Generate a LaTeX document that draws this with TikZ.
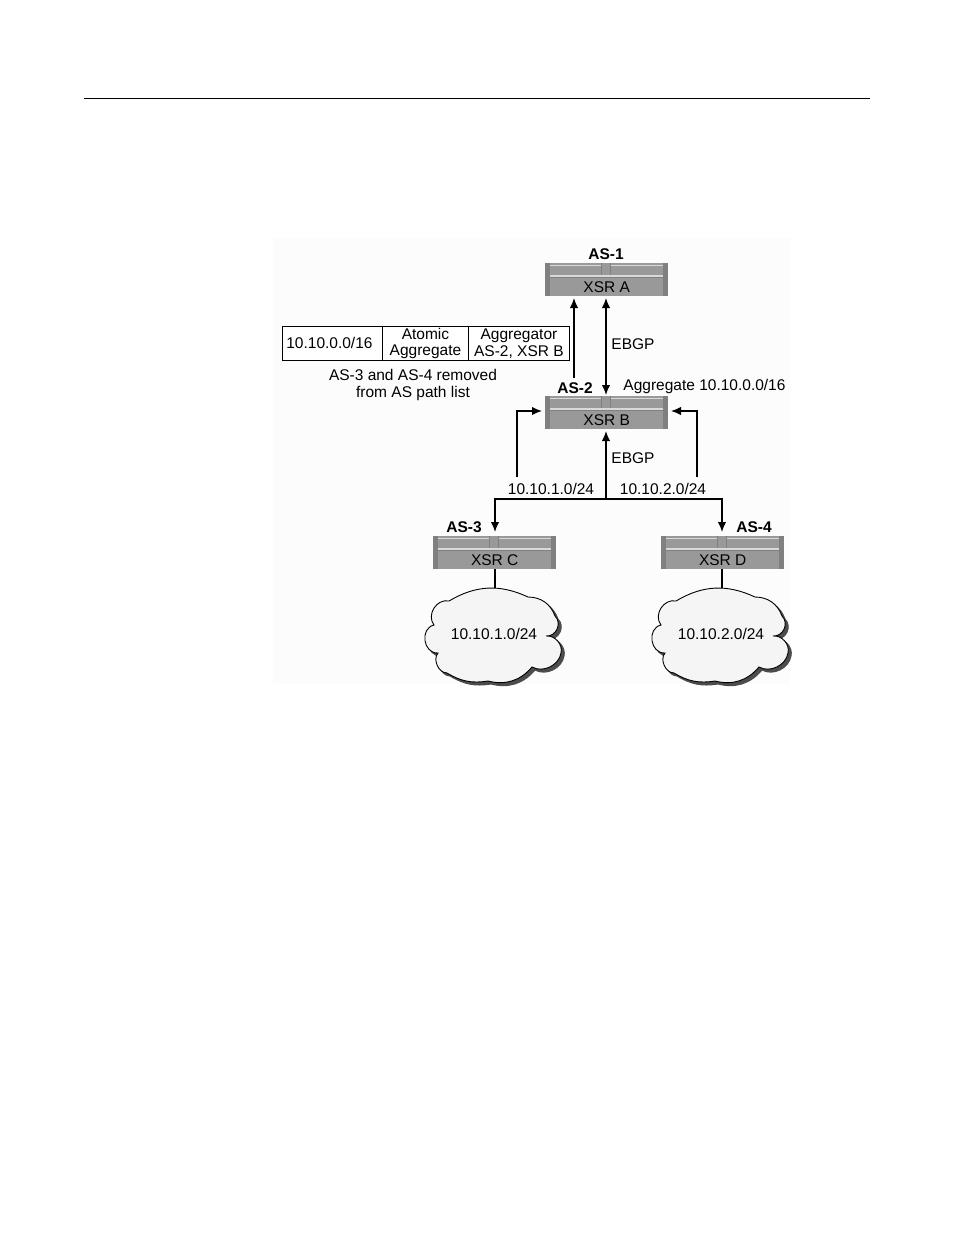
\documentclass[tikz,border=0pt]{standalone}
\usepackage{fontspec}
\setmainfont{Liberation Sans}
\usetikzlibrary{arrows.meta}
\definecolor{routerbody}{gray}{0.60}
\definecolor{routerdark}{gray}{0.50}
\definecolor{routerlight}{gray}{0.85}
\definecolor{cloudfill}{gray}{0.96}
\definecolor{cloudshadow}{gray}{0.30}
\definecolor{panel}{gray}{0.988}
\tikzset{
  x=1pt,y=-1pt,
  txt/.style={font=\fontsize{15.5}{17}\selectfont,inner sep=0pt,align=center},
  astxt/.style={font=\fontsize{15.5}{17}\selectfont\bfseries,inner sep=0pt},
  conn/.style={line width=1.5pt,-{Latex[length=10pt,width=8.5pt]}},
  connboth/.style={line width=1.5pt,{Latex[length=10pt,width=8.5pt]}-{Latex[length=10pt,width=8.5pt]}},
  plainconn/.style={line width=1.5pt},
  cell/.style={draw=black,line width=0.9pt,fill=white,minimum height=34pt,inner sep=0pt,align=center,font=\fontsize{15.5}{16.5}\selectfont,anchor=north west},
  router/.style={
    rectangle,fill=routerbody,minimum width=123pt,minimum height=33pt,inner sep=0pt,anchor=north west,
    font=\fontsize{15.5}{17}\selectfont,
    path picture={
      \coordinate (nw) at (path picture bounding box.north west);
      \fill[routerdark] ([xshift=0pt]nw) rectangle ++(4.5,33);
      \fill[routerdark] ([xshift=117.5pt]nw) rectangle ++(5.5,33);
      \fill[routerlight] ([xshift=4.5pt,yshift=-1.5pt]nw) rectangle ++(113,1.2);
      \fill[routerlight] ([xshift=4.5pt,yshift=-12.2pt]nw) rectangle ++(113,2);
      \fill[routerbody] ([xshift=56.5pt]nw) rectangle ++(9,12.2);
      \draw[routerdark,line width=0.8pt] ([xshift=56.5pt]nw) -- ++(0,12.2) ([xshift=65.5pt]nw) -- ++(0,12.2);
      \draw[routerdark,line width=0.6pt] ([xshift=4.5pt,yshift=-14.5pt]nw) -- ++(113,0);
    }
  },
  cloudbody/.style={line width=0.9pt,draw=black,fill=cloudfill},
  cloudback/.style={line width=1pt,draw=cloudshadow,fill=cloudshadow},
}
\newcommand{\cloudpath}[2]{%
  (#1-46,#2+12) to[bend left=28] (#1+33,#2+8) to[bend left=35] (#1+60,#2+27)
  to[bend left=70,looseness=1.2] (#1+51,#2+47) to[bend left=55] (#1+66,#2+64)
  to[bend left=55] (#1+37,#2+78) to[bend left=32] (#1-7,#2+92)
  to[bend left=20] (#1-48,#2+84) to[bend left=65] (#1-57,#2+64)
  to[bend left=85,looseness=1.35] (#1-61,#2+36) to[bend left=70,looseness=1.15] cycle}
\begin{document}
\begin{tikzpicture}
\useasboundingbox (0,0) rectangle (954,1235);
\fill[white] (0,0) rectangle (954,1235);
\fill[panel] (273,238) rectangle (790,684);
\coordinate (ruleL) at (84,98);
\coordinate (ruleR) at (870,98);
\draw[line width=1pt] (ruleL) -- (ruleR);

% routers
\node[router] (A) at (545,263) {\raisebox{-13pt}[0pt][0pt]{XSR A}};
\node[router] (B) at (545,396) {\raisebox{-13pt}[0pt][0pt]{XSR B}};
\node[router] (C) at (433,536) {\raisebox{-13pt}[0pt][0pt]{XSR C}};
\node[router] (D) at (661,536) {\raisebox{-13pt}[0pt][0pt]{XSR D}};

% AS labels
\node[astxt] (as1) at (606,254) {AS-1};
\node[astxt] (as2) at (575,388) {AS-2};
\node[astxt] (as3) at (464,527) {AS-3};
\node[astxt] (as4) at (754,527) {AS-4};

% table
\node[cell,minimum width=100pt] (t1) at (282,326) {\hspace*{-6pt}10.10.0.0/16};
\node[cell,minimum width=86pt] (t2) at (382,326) {Atomic\\Aggregate};
\node[cell,minimum width=101pt] (t3) at (468,326) {Aggregator\\AS-2, XSR B};

% text labels
\node[txt] (removed) at (413,385) {AS-3 and AS-4 removed\\from AS path list};
\node[txt] (ebgp1) at (633,344) {EBGP};
\node[txt] (ebgp2) at (633,458) {EBGP};
\node[txt] (aggr) at (704.5,386) {Aggregate 10.10.0.0/16};
\node[txt] (l1) at (551,489) {10.10.1.0/24};
\node[txt] (l2) at (663,489) {10.10.2.0/24};

% connector points
\coordinate (upA) at (574,378);
\coordinate (tipA) at (574,298);
\coordinate (topAB) at (606,298);
\coordinate (botAB) at (606,395);
\coordinate (leftS) at (517,477);
\coordinate (leftC) at (517,411);
\coordinate (leftT) at (542,411);
\coordinate (rightS) at (697,477);
\coordinate (rightC) at (697,411);
\coordinate (rightT) at (671,411);
\coordinate (hub) at (606,499);
\coordinate (hubT) at (606,431);
\coordinate (hubL) at (495,499);
\coordinate (hubR) at (722,499);
\coordinate (cT) at (495,532);
\coordinate (dT) at (722,532);
\coordinate (cloudCtop) at (495,590);
\coordinate (cloudDtop) at (722,590);

\draw[conn] (upA) -- (tipA);
\draw[connboth] (topAB) -- (botAB);
\draw[conn] (leftS) -- (leftC) -- (leftT);
\draw[conn] (rightS) -- (rightC) -- (rightT);
\draw[conn] (hub) -- (hubT);
\draw[conn] (hub) -- (hubL) -- (cT);
\draw[conn] (hub) -- (hubR) -- (dT);

% clouds
\draw[plainconn] (495,569) -- (cloudCtop);
\draw[plainconn] (722,569) -- (cloudDtop);
\draw[cloudback] \cloudpath{498}{592};
\draw[cloudbody] \cloudpath{495}{589};
\draw[cloudback] \cloudpath{725}{592};
\draw[cloudbody] \cloudpath{722}{589};
\node[txt] (cloudC) at (494,634) {10.10.1.0/24};
\node[txt] (cloudD) at (721,634) {10.10.2.0/24};
\end{tikzpicture}
\end{document}
